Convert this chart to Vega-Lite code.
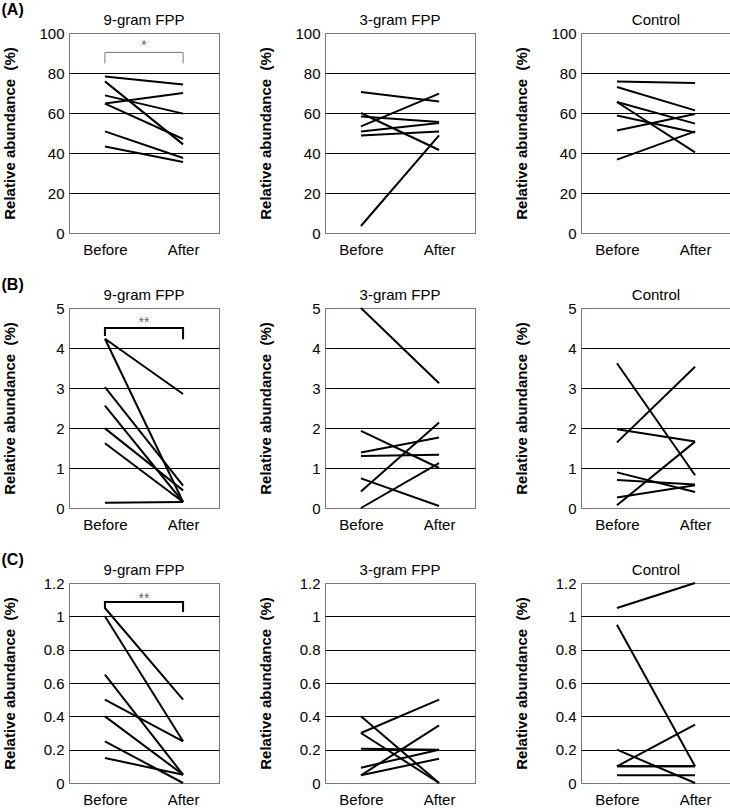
{
  "$schema": "https://vega.github.io/schema/vega-lite/v6.json",
  "padding": {"left": 1, "top": 1, "right": 0, "bottom": 0},
  "config": {
    "font": "Liberation Sans",
    "view": {"stroke": "#777777", "strokeWidth": 1},
    "title": {"font": "Liberation Sans", "fontSize": 15, "fontWeight": "normal", "color": "black", "offset": -2, "baseline": "bottom"},
    "axis": {"labelFont": "Liberation Sans", "labelFontSize": 15, "labelColor": "black", "ticks": false, "tickSize": 0, "domain": false, "titleFont": "Liberation Sans", "titleFontSize": 15, "titleFontWeight": "bold", "titleColor": "black"},
    "axisY": {"grid": true, "gridColor": {"condition": {"test": "datum.value === 0 || datum.value === 5 || datum.value === 100 || datum.value === 1.2", "value": "#777777"}, "value": "black"}, "gridWidth": 1, "labelPadding": 5, "titleX": -60, "titleY": 100, "titleBaseline": "middle", "titleAlign": "center"},
    "axisX": {"grid": false, "labelPadding": 9, "labelAngle": 0}
  },
  "datasets": {
    "d": [
      {"row": "A", "group": "9-gram FPP", "subject": 1, "time": "Before", "value": 78.3}, {"row": "A", "group": "9-gram FPP", "subject": 1, "time": "After", "value": 74.2},
      {"row": "A", "group": "9-gram FPP", "subject": 2, "time": "Before", "value": 75.8}, {"row": "A", "group": "9-gram FPP", "subject": 2, "time": "After", "value": 44.3},
      {"row": "A", "group": "9-gram FPP", "subject": 3, "time": "Before", "value": 68.8}, {"row": "A", "group": "9-gram FPP", "subject": 3, "time": "After", "value": 59.7},
      {"row": "A", "group": "9-gram FPP", "subject": 4, "time": "Before", "value": 64.7}, {"row": "A", "group": "9-gram FPP", "subject": 4, "time": "After", "value": 70.0},
      {"row": "A", "group": "9-gram FPP", "subject": 5, "time": "Before", "value": 64.7}, {"row": "A", "group": "9-gram FPP", "subject": 5, "time": "After", "value": 47.0},
      {"row": "A", "group": "9-gram FPP", "subject": 6, "time": "Before", "value": 50.8}, {"row": "A", "group": "9-gram FPP", "subject": 6, "time": "After", "value": 37.5},
      {"row": "A", "group": "9-gram FPP", "subject": 7, "time": "Before", "value": 43.3}, {"row": "A", "group": "9-gram FPP", "subject": 7, "time": "After", "value": 35.5},

      {"row": "A", "group": "3-gram FPP", "subject": 1, "time": "Before", "value": 70.5}, {"row": "A", "group": "3-gram FPP", "subject": 1, "time": "After", "value": 65.8},
      {"row": "A", "group": "3-gram FPP", "subject": 2, "time": "Before", "value": 53.3}, {"row": "A", "group": "3-gram FPP", "subject": 2, "time": "After", "value": 69.7},
      {"row": "A", "group": "3-gram FPP", "subject": 3, "time": "Before", "value": 60.0}, {"row": "A", "group": "3-gram FPP", "subject": 3, "time": "After", "value": 41.5},
      {"row": "A", "group": "3-gram FPP", "subject": 4, "time": "Before", "value": 58.3}, {"row": "A", "group": "3-gram FPP", "subject": 4, "time": "After", "value": 55.5},
      {"row": "A", "group": "3-gram FPP", "subject": 5, "time": "Before", "value": 50.8}, {"row": "A", "group": "3-gram FPP", "subject": 5, "time": "After", "value": 55.0},
      {"row": "A", "group": "3-gram FPP", "subject": 6, "time": "Before", "value": 48.7}, {"row": "A", "group": "3-gram FPP", "subject": 6, "time": "After", "value": 50.8},
      {"row": "A", "group": "3-gram FPP", "subject": 7, "time": "Before", "value": 3.5}, {"row": "A", "group": "3-gram FPP", "subject": 7, "time": "After", "value": 48.8},

      {"row": "A", "group": "Control", "subject": 1, "time": "Before", "value": 75.8}, {"row": "A", "group": "Control", "subject": 1, "time": "After", "value": 75.0},
      {"row": "A", "group": "Control", "subject": 2, "time": "Before", "value": 73.0}, {"row": "A", "group": "Control", "subject": 2, "time": "After", "value": 61.3},
      {"row": "A", "group": "Control", "subject": 3, "time": "Before", "value": 65.5}, {"row": "A", "group": "Control", "subject": 3, "time": "After", "value": 54.7},
      {"row": "A", "group": "Control", "subject": 4, "time": "Before", "value": 65.5}, {"row": "A", "group": "Control", "subject": 4, "time": "After", "value": 40.3},
      {"row": "A", "group": "Control", "subject": 5, "time": "Before", "value": 58.8}, {"row": "A", "group": "Control", "subject": 5, "time": "After", "value": 50.3},
      {"row": "A", "group": "Control", "subject": 6, "time": "Before", "value": 51.3}, {"row": "A", "group": "Control", "subject": 6, "time": "After", "value": 59.5},
      {"row": "A", "group": "Control", "subject": 7, "time": "Before", "value": 36.7}, {"row": "A", "group": "Control", "subject": 7, "time": "After", "value": 50.8},

      {"row": "B", "group": "9-gram FPP", "subject": 1, "time": "Before", "value": 4.23}, {"row": "B", "group": "9-gram FPP", "subject": 1, "time": "After", "value": 2.85},
      {"row": "B", "group": "9-gram FPP", "subject": 2, "time": "Before", "value": 4.23}, {"row": "B", "group": "9-gram FPP", "subject": 2, "time": "After", "value": 0.15},
      {"row": "B", "group": "9-gram FPP", "subject": 3, "time": "Before", "value": 3.02}, {"row": "B", "group": "9-gram FPP", "subject": 3, "time": "After", "value": 0.56},
      {"row": "B", "group": "9-gram FPP", "subject": 4, "time": "Before", "value": 2.56}, {"row": "B", "group": "9-gram FPP", "subject": 4, "time": "After", "value": 0.15},
      {"row": "B", "group": "9-gram FPP", "subject": 5, "time": "Before", "value": 1.99}, {"row": "B", "group": "9-gram FPP", "subject": 5, "time": "After", "value": 0.44},
      {"row": "B", "group": "9-gram FPP", "subject": 6, "time": "Before", "value": 1.62}, {"row": "B", "group": "9-gram FPP", "subject": 6, "time": "After", "value": 0.15},
      {"row": "B", "group": "9-gram FPP", "subject": 7, "time": "Before", "value": 0.13}, {"row": "B", "group": "9-gram FPP", "subject": 7, "time": "After", "value": 0.15},

      {"row": "B", "group": "3-gram FPP", "subject": 1, "time": "Before", "value": 5.0}, {"row": "B", "group": "3-gram FPP", "subject": 1, "time": "After", "value": 3.12},
      {"row": "B", "group": "3-gram FPP", "subject": 2, "time": "Before", "value": 1.93}, {"row": "B", "group": "3-gram FPP", "subject": 2, "time": "After", "value": 1.0},
      {"row": "B", "group": "3-gram FPP", "subject": 3, "time": "Before", "value": 1.39}, {"row": "B", "group": "3-gram FPP", "subject": 3, "time": "After", "value": 1.76},
      {"row": "B", "group": "3-gram FPP", "subject": 4, "time": "Before", "value": 1.30}, {"row": "B", "group": "3-gram FPP", "subject": 4, "time": "After", "value": 1.33},
      {"row": "B", "group": "3-gram FPP", "subject": 5, "time": "Before", "value": 0.74}, {"row": "B", "group": "3-gram FPP", "subject": 5, "time": "After", "value": 0.05},
      {"row": "B", "group": "3-gram FPP", "subject": 6, "time": "Before", "value": 0.41}, {"row": "B", "group": "3-gram FPP", "subject": 6, "time": "After", "value": 2.14},
      {"row": "B", "group": "3-gram FPP", "subject": 7, "time": "Before", "value": 0.0}, {"row": "B", "group": "3-gram FPP", "subject": 7, "time": "After", "value": 1.12},

      {"row": "B", "group": "Control", "subject": 1, "time": "Before", "value": 3.62}, {"row": "B", "group": "Control", "subject": 1, "time": "After", "value": 0.82},
      {"row": "B", "group": "Control", "subject": 2, "time": "Before", "value": 1.64}, {"row": "B", "group": "Control", "subject": 2, "time": "After", "value": 3.53},
      {"row": "B", "group": "Control", "subject": 3, "time": "Before", "value": 1.97}, {"row": "B", "group": "Control", "subject": 3, "time": "After", "value": 1.66},
      {"row": "B", "group": "Control", "subject": 4, "time": "Before", "value": 0.07}, {"row": "B", "group": "Control", "subject": 4, "time": "After", "value": 1.66},
      {"row": "B", "group": "Control", "subject": 5, "time": "Before", "value": 0.89}, {"row": "B", "group": "Control", "subject": 5, "time": "After", "value": 0.40},
      {"row": "B", "group": "Control", "subject": 6, "time": "Before", "value": 0.70}, {"row": "B", "group": "Control", "subject": 6, "time": "After", "value": 0.59},
      {"row": "B", "group": "Control", "subject": 7, "time": "Before", "value": 0.26}, {"row": "B", "group": "Control", "subject": 7, "time": "After", "value": 0.57},

      {"row": "C", "group": "9-gram FPP", "subject": 1, "time": "Before", "value": 1.05}, {"row": "C", "group": "9-gram FPP", "subject": 1, "time": "After", "value": 0.50},
      {"row": "C", "group": "9-gram FPP", "subject": 2, "time": "Before", "value": 1.00}, {"row": "C", "group": "9-gram FPP", "subject": 2, "time": "After", "value": 0.25},
      {"row": "C", "group": "9-gram FPP", "subject": 3, "time": "Before", "value": 0.65}, {"row": "C", "group": "9-gram FPP", "subject": 3, "time": "After", "value": 0.05},
      {"row": "C", "group": "9-gram FPP", "subject": 4, "time": "Before", "value": 0.50}, {"row": "C", "group": "9-gram FPP", "subject": 4, "time": "After", "value": 0.25},
      {"row": "C", "group": "9-gram FPP", "subject": 5, "time": "Before", "value": 0.40}, {"row": "C", "group": "9-gram FPP", "subject": 5, "time": "After", "value": 0.05},
      {"row": "C", "group": "9-gram FPP", "subject": 6, "time": "Before", "value": 0.25}, {"row": "C", "group": "9-gram FPP", "subject": 6, "time": "After", "value": 0.0},
      {"row": "C", "group": "9-gram FPP", "subject": 7, "time": "Before", "value": 0.15}, {"row": "C", "group": "9-gram FPP", "subject": 7, "time": "After", "value": 0.05},

      {"row": "C", "group": "3-gram FPP", "subject": 1, "time": "Before", "value": 0.30}, {"row": "C", "group": "3-gram FPP", "subject": 1, "time": "After", "value": 0.50},
      {"row": "C", "group": "3-gram FPP", "subject": 2, "time": "Before", "value": 0.40}, {"row": "C", "group": "3-gram FPP", "subject": 2, "time": "After", "value": 0.0},
      {"row": "C", "group": "3-gram FPP", "subject": 3, "time": "Before", "value": 0.30}, {"row": "C", "group": "3-gram FPP", "subject": 3, "time": "After", "value": 0.0},
      {"row": "C", "group": "3-gram FPP", "subject": 4, "time": "Before", "value": 0.206}, {"row": "C", "group": "3-gram FPP", "subject": 4, "time": "After", "value": 0.20},
      {"row": "C", "group": "3-gram FPP", "subject": 5, "time": "Before", "value": 0.092}, {"row": "C", "group": "3-gram FPP", "subject": 5, "time": "After", "value": 0.20},
      {"row": "C", "group": "3-gram FPP", "subject": 6, "time": "Before", "value": 0.046}, {"row": "C", "group": "3-gram FPP", "subject": 6, "time": "After", "value": 0.346},
      {"row": "C", "group": "3-gram FPP", "subject": 7, "time": "Before", "value": 0.046}, {"row": "C", "group": "3-gram FPP", "subject": 7, "time": "After", "value": 0.146},

      {"row": "C", "group": "Control", "subject": 1, "time": "Before", "value": 1.05}, {"row": "C", "group": "Control", "subject": 1, "time": "After", "value": 1.20},
      {"row": "C", "group": "Control", "subject": 2, "time": "Before", "value": 0.95}, {"row": "C", "group": "Control", "subject": 2, "time": "After", "value": 0.10},
      {"row": "C", "group": "Control", "subject": 3, "time": "Before", "value": 0.10}, {"row": "C", "group": "Control", "subject": 3, "time": "After", "value": 0.35},
      {"row": "C", "group": "Control", "subject": 4, "time": "Before", "value": 0.10}, {"row": "C", "group": "Control", "subject": 4, "time": "After", "value": 0.10},
      {"row": "C", "group": "Control", "subject": 5, "time": "Before", "value": 0.20}, {"row": "C", "group": "Control", "subject": 5, "time": "After", "value": 0.0},
      {"row": "C", "group": "Control", "subject": 6, "time": "Before", "value": 0.046}, {"row": "C", "group": "Control", "subject": 6, "time": "After", "value": 0.046},
      {"row": "C", "group": "Control", "subject": 7, "time": "Before", "value": 0.10}, {"row": "C", "group": "Control", "subject": 7, "time": "After", "value": 0.10}
    ],
    "br": [
      {"row": "A", "k": 1, "time": "Before", "value": 84.8}, {"row": "A", "k": 2, "time": "Before", "value": 90.3}, {"row": "A", "k": 3, "time": "After", "value": 90.3}, {"row": "A", "k": 4, "time": "After", "value": 84.8},
      {"row": "B", "k": 1, "time": "Before", "value": 4.3}, {"row": "B", "k": 2, "time": "Before", "value": 4.5}, {"row": "B", "k": 3, "time": "After", "value": 4.5}, {"row": "B", "k": 4, "time": "After", "value": 4.22},
      {"row": "C", "k": 1, "time": "Before", "value": 1.044}, {"row": "C", "k": 2, "time": "Before", "value": 1.086}, {"row": "C", "k": 3, "time": "After", "value": 1.086}, {"row": "C", "k": 4, "time": "After", "value": 1.026}
    ],
    "st": [
      {"row": "A", "time": "Before", "value": 93.3, "label": "*"},
      {"row": "B", "time": "Before", "value": 4.63, "label": "**"},
      {"row": "C", "time": "Before", "value": 1.107, "label": "**"}
    ]
  },
  "spacing": 18,
  "vconcat": [
    {
      "title": {"text": "(A)", "anchor": "start", "fontSize": 16, "fontWeight": "bold", "offset": -5, "frame": "bounds"},
      "spacing": 37,
      "hconcat": [
        {
          "width": 150, "height": 200, "title": "9-gram FPP",
          "encoding": {
            "x": {"field": "time", "type": "ordinal", "scale": {"type": "point", "domain": ["Before", "After"], "padding": 0.46}, "title": null},
            "y": {"field": "value", "type": "quantitative", "scale": {"domain": [0, 100]}, "axis": {"values": [0, 20, 40, 60, 80, 100]}, "title": "Relative abundance \u00a0(%)"}
          },
          "layer": [
            {"data": {"name": "d"}, "transform": [{"filter": "datum.row === 'A' && datum.group === '9-gram FPP'"}], "mark": {"type": "line", "color": "black", "strokeWidth": 2}, "encoding": {"detail": {"field": "subject"}}},
            {"data": {"name": "br"}, "transform": [{"filter": "datum.row === 'A'"}], "mark": {"type": "line", "color": "#777777", "strokeWidth": 1}, "encoding": {"order": {"field": "k"}}},
            {"data": {"name": "st"}, "transform": [{"filter": "datum.row === 'A'"}], "mark": {"type": "text", "color": "#666666", "fontSize": 14, "dx": 39}, "encoding": {"text": {"field": "label"}}}
          ]
        },
        {
          "width": 150, "height": 200, "title": "3-gram FPP",
          "data": {"name": "d"}, "transform": [{"filter": "datum.row === 'A' && datum.group === '3-gram FPP'"}],
          "mark": {"type": "line", "color": "black", "strokeWidth": 2},
          "encoding": {
            "x": {"field": "time", "type": "ordinal", "scale": {"type": "point", "domain": ["Before", "After"], "padding": 0.46}, "title": null},
            "y": {"field": "value", "type": "quantitative", "scale": {"domain": [0, 100]}, "axis": {"values": [0, 20, 40, 60, 80, 100]}, "title": "Relative abundance \u00a0(%)"},
            "detail": {"field": "subject"}
          }
        },
        {
          "width": 150, "height": 200, "title": "Control",
          "data": {"name": "d"}, "transform": [{"filter": "datum.row === 'A' && datum.group === 'Control'"}],
          "mark": {"type": "line", "color": "black", "strokeWidth": 2},
          "encoding": {
            "x": {"field": "time", "type": "ordinal", "scale": {"type": "point", "domain": ["Before", "After"], "padding": 0.46}, "title": null},
            "y": {"field": "value", "type": "quantitative", "scale": {"domain": [0, 100]}, "axis": {"values": [0, 20, 40, 60, 80, 100]}, "title": "Relative abundance \u00a0(%)"},
            "detail": {"field": "subject"}
          }
        }
      ]
    },
    {
      "title": {"text": "(B)", "anchor": "start", "fontSize": 16, "fontWeight": "bold", "offset": -5, "frame": "bounds"},
      "spacing": 37,
      "hconcat": [
        {
          "width": 150, "height": 200, "title": "9-gram FPP",
          "encoding": {
            "x": {"field": "time", "type": "ordinal", "scale": {"type": "point", "domain": ["Before", "After"], "padding": 0.46}, "title": null},
            "y": {"field": "value", "type": "quantitative", "scale": {"domain": [0, 5]}, "axis": {"values": [0, 1, 2, 3, 4, 5]}, "title": "Relative abundance \u00a0(%)"}
          },
          "layer": [
            {"data": {"name": "d"}, "transform": [{"filter": "datum.row === 'B' && datum.group === '9-gram FPP'"}], "mark": {"type": "line", "color": "black", "strokeWidth": 2}, "encoding": {"detail": {"field": "subject"}}},
            {"data": {"name": "br"}, "transform": [{"filter": "datum.row === 'B'"}], "mark": {"type": "line", "color": "black", "strokeWidth": 2}, "encoding": {"order": {"field": "k"}}},
            {"data": {"name": "st"}, "transform": [{"filter": "datum.row === 'B'"}], "mark": {"type": "text", "color": "#666666", "fontSize": 14, "dx": 39}, "encoding": {"text": {"field": "label"}}}
          ]
        },
        {
          "width": 150, "height": 200, "title": "3-gram FPP",
          "data": {"name": "d"}, "transform": [{"filter": "datum.row === 'B' && datum.group === '3-gram FPP'"}],
          "mark": {"type": "line", "color": "black", "strokeWidth": 2},
          "encoding": {
            "x": {"field": "time", "type": "ordinal", "scale": {"type": "point", "domain": ["Before", "After"], "padding": 0.46}, "title": null},
            "y": {"field": "value", "type": "quantitative", "scale": {"domain": [0, 5]}, "axis": {"values": [0, 1, 2, 3, 4, 5]}, "title": "Relative abundance \u00a0(%)"},
            "detail": {"field": "subject"}
          }
        },
        {
          "width": 150, "height": 200, "title": "Control",
          "data": {"name": "d"}, "transform": [{"filter": "datum.row === 'B' && datum.group === 'Control'"}],
          "mark": {"type": "line", "color": "black", "strokeWidth": 2},
          "encoding": {
            "x": {"field": "time", "type": "ordinal", "scale": {"type": "point", "domain": ["Before", "After"], "padding": 0.46}, "title": null},
            "y": {"field": "value", "type": "quantitative", "scale": {"domain": [0, 5]}, "axis": {"values": [0, 1, 2, 3, 4, 5]}, "title": "Relative abundance \u00a0(%)"},
            "detail": {"field": "subject"}
          }
        }
      ]
    },
    {
      "title": {"text": "(C)", "anchor": "start", "fontSize": 16, "fontWeight": "bold", "offset": -5, "frame": "bounds"},
      "spacing": 37,
      "hconcat": [
        {
          "width": 150, "height": 200, "title": "9-gram FPP",
          "encoding": {
            "x": {"field": "time", "type": "ordinal", "scale": {"type": "point", "domain": ["Before", "After"], "padding": 0.46}, "title": null},
            "y": {"field": "value", "type": "quantitative", "scale": {"domain": [0, 1.2]}, "axis": {"values": [0, 0.2, 0.4, 0.6, 0.8, 1, 1.2], "format": "~g"}, "title": "Relative abundance \u00a0(%)"}
          },
          "layer": [
            {"data": {"name": "d"}, "transform": [{"filter": "datum.row === 'C' && datum.group === '9-gram FPP'"}], "mark": {"type": "line", "color": "black", "strokeWidth": 2}, "encoding": {"detail": {"field": "subject"}}},
            {"data": {"name": "br"}, "transform": [{"filter": "datum.row === 'C'"}], "mark": {"type": "line", "color": "black", "strokeWidth": 2}, "encoding": {"order": {"field": "k"}}},
            {"data": {"name": "st"}, "transform": [{"filter": "datum.row === 'C'"}], "mark": {"type": "text", "color": "#666666", "fontSize": 14, "dx": 39}, "encoding": {"text": {"field": "label"}}}
          ]
        },
        {
          "width": 150, "height": 200, "title": "3-gram FPP",
          "data": {"name": "d"}, "transform": [{"filter": "datum.row === 'C' && datum.group === '3-gram FPP'"}],
          "mark": {"type": "line", "color": "black", "strokeWidth": 2},
          "encoding": {
            "x": {"field": "time", "type": "ordinal", "scale": {"type": "point", "domain": ["Before", "After"], "padding": 0.46}, "title": null},
            "y": {"field": "value", "type": "quantitative", "scale": {"domain": [0, 1.2]}, "axis": {"values": [0, 0.2, 0.4, 0.6, 0.8, 1, 1.2], "format": "~g"}, "title": "Relative abundance \u00a0(%)"},
            "detail": {"field": "subject"}
          }
        },
        {
          "width": 150, "height": 200, "title": "Control",
          "data": {"name": "d"}, "transform": [{"filter": "datum.row === 'C' && datum.group === 'Control'"}],
          "mark": {"type": "line", "color": "black", "strokeWidth": 2},
          "encoding": {
            "x": {"field": "time", "type": "ordinal", "scale": {"type": "point", "domain": ["Before", "After"], "padding": 0.46}, "title": null},
            "y": {"field": "value", "type": "quantitative", "scale": {"domain": [0, 1.2]}, "axis": {"values": [0, 0.2, 0.4, 0.6, 0.8, 1, 1.2], "format": "~g"}, "title": "Relative abundance \u00a0(%)"},
            "detail": {"field": "subject"}
          }
        }
      ]
    }
  ]
}
